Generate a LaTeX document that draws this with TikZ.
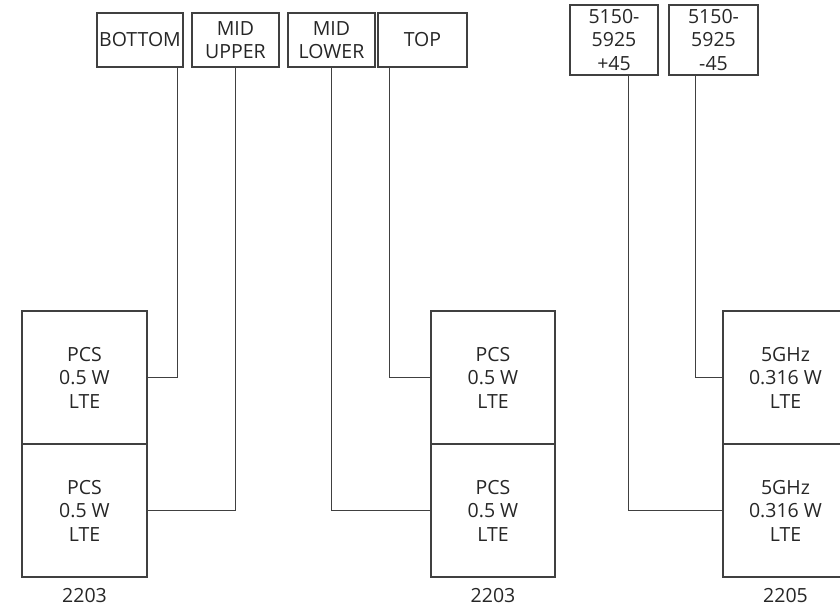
\documentclass[tikz,border=0pt]{standalone}
\usepackage{fontspec}
\setmainfont{Open Sans}
\definecolor{linec}{HTML}{404040}
\begin{document}
\begin{tikzpicture}[x=1pt,y=-1pt,
  txt/.style={font=\fontsize{19.5}{23.5}\selectfont,align=center,text=black!85},
  lbl/.style={txt,draw=linec,line width=1.1pt,inner sep=0pt,minimum height=54pt},
  lbltall/.style={txt,draw=linec,line width=1.1pt,inner sep=0pt,minimum height=70pt,minimum width=88pt},
  modbox/.style={txt,draw=linec,line width=1.1pt,inner sep=0pt,minimum width=125pt,minimum height=133pt},
  conn/.style={draw=linec,line width=0.9pt},
  captxt/.style={txt}]
\useasboundingbox (0,0) rectangle (840,611);
\clip (0,0) rectangle (840,611);
% top labels
\node[lbl,minimum width=86pt] (bot) at (140,40) {BOTTOM};
\node[lbl,minimum width=87pt] (mup) at (235.5,40) {MID\\UPPER};
\node[lbl,minimum width=87pt] (mlo) at (331.5,40) {MID\\LOWER};
\node[lbl,minimum width=89pt] (top) at (422.5,40) {TOP};
\node[lbltall] (pl) at (614,40) {5150-\\5925\\+45};
\node[lbltall,minimum width=89pt] (mi) at (713.5,40) {5150-\\5925\\-45};
% modules
\node[modbox] (a1) at (84.5,377.5) {PCS\\0.5 W\\LTE};
\node[modbox] (a2) at (84.5,510.5) {PCS\\0.5 W\\LTE};
\node[captxt] (ca) at (84.5,596) {2203};
\node[modbox,minimum width=124pt] (b1) at (493,377.5) {PCS\\0.5 W\\LTE};
\node[modbox,minimum width=124pt] (b2) at (493,510.5) {PCS\\0.5 W\\LTE};
\node[captxt] (cb) at (493,596) {2203};
\node[modbox] (c1) at (785.5,377.5) {5GHz\\0.316 W\\LTE};
\node[modbox] (c2) at (785.5,510.5) {5GHz\\0.316 W\\LTE};
\node[captxt] (cc) at (785.5,596) {2205};
% connectors
\draw[conn] (a1.east) -| ([xshift=37pt]bot.south);
\draw[conn] (a2.east) -| (mup.south);
\draw[conn] (b1.west) -| ([xshift=-33.5pt]top.south);
\draw[conn] (b2.west) -| (mlo.south);
\draw[conn] (c1.west) -| ([xshift=-18.5pt]mi.south);
\draw[conn] (c2.west) -| ([xshift=14pt]pl.south);
\end{tikzpicture}
\end{document}
